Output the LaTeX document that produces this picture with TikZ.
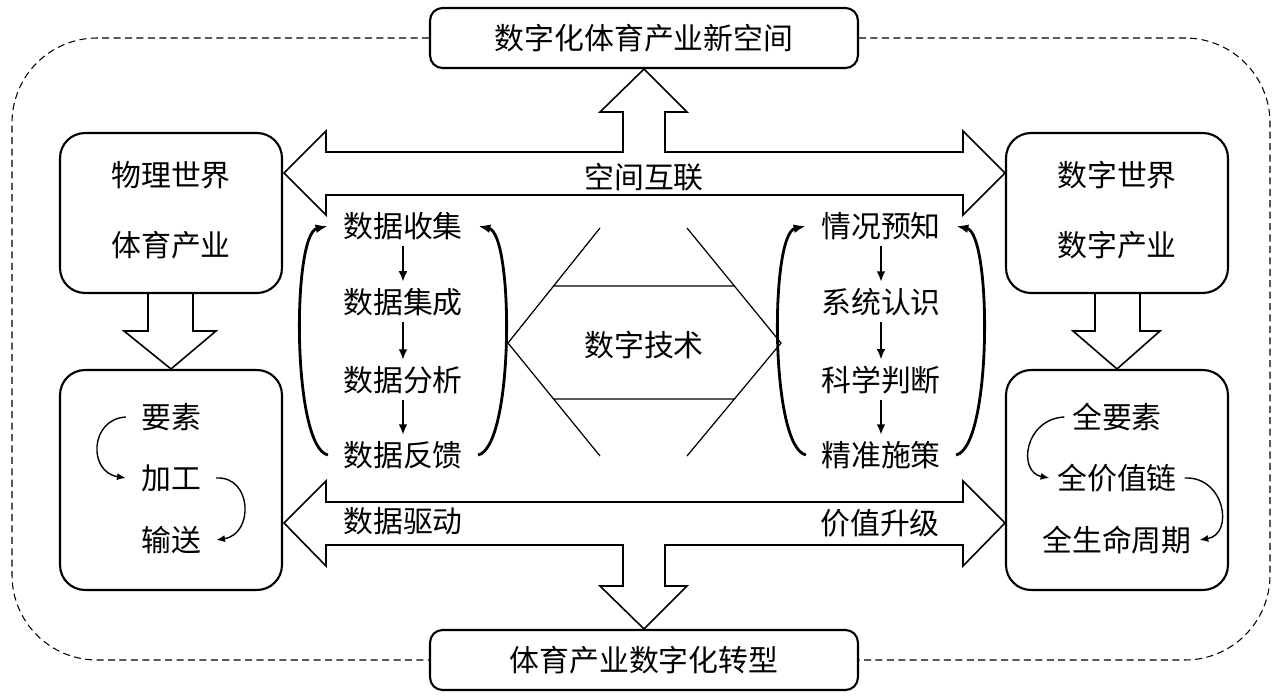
\documentclass[tikz,border=0pt]{standalone}
\usepackage{fontspec}
\newfontfamily\cjk{Noto Sans CJK SC}
\usetikzlibrary{arrows.meta}
\tikzset{x=0.02cm, y=0.02cm,
  every node/.style={font=\cjk\fontsize{17}{20}\selectfont, inner xsep=0.3cm, inner ysep=0.12cm},
  frame/.style={draw, line width=1.2pt, rounded corners=0.5cm},
  hollow/.style={draw, line width=0.9pt},
  flow/.style={line width=1.2pt, -{Latex[length=6pt,width=5pt]}},
  brace/.style={line width=1.6pt, -{Latex[length=7pt,width=5pt]}},
  turn/.style={line width=0.8pt, -{Latex[length=5pt,width=4pt]}}}

\begin{document}
\begin{tikzpicture}
  \useasboundingbox (0,0) rectangle (1276,698);
  \node[frame, rounded corners=0.25cm, minimum width=8.56cm, minimum height=1.2cm] (top) at (644,660) {数字化体育产业新空间};
  \node[frame, rounded corners=0.25cm, minimum width=8.56cm, minimum height=1.2cm] (bot) at (644,38) {体育产业数字化转型};
  \draw[dash pattern=on 4pt off 2.5pt, line width=0.6pt, rounded corners=1.7cm] (top.west) -- (12,660) -- (12,38) -- (bot.west);
  \draw[dash pattern=on 4pt off 2.5pt, line width=0.6pt, rounded corners=1.7cm] (top.east) -- (1270,660) -- (1270,38) -- (bot.east);

  \node[frame, minimum width=4.44cm, minimum height=3.2cm] (phys) at (171,485) {};
  \node[frame, minimum width=4.44cm, minimum height=4.4cm] (proc) at (171,218) {};
  \node[frame, minimum width=4.44cm, minimum height=3.2cm] (digi) at (1117,485) {};
  \node[frame, minimum width=4.44cm, minimum height=4.4cm] (full) at (1117,218) {};
  \node (p1) at (171,523) {物理世界};
  \node (p2) at (171,453) {体育产业};
  \node (g1) at (1117,523) {数字世界};
  \node (g2) at (1117,453) {数字产业};
  \node (e1) at (171,281) {要素};
  \node (e2) at (171,220) {加工};
  \node (e3) at (171,158) {输送};
  \node[inner xsep=0.15cm] (f1) at (1117,281) {全要素};
  \node[inner xsep=0.15cm] (f2) at (1117,220) {全价值链};
  \node[inner xsep=0.15cm] (f3) at (1117,158) {全生命周期};
  \draw[turn] (e1.west) .. controls +(-36,-2) and +(-38,6) .. (e2.west);
  \draw[turn] (e2.east) .. controls +(36,2) and +(38,6) .. (e3.east);
  \draw[turn] (f1.west) .. controls +(-40,-2) and +(-32,6) .. (f2.west);
  \draw[turn] (f2.east) .. controls +(40,2) and +(35,6) .. (f3.east);

  % block arrows
  \draw[hollow] (284,525) -- (326,567) -- (326,546) -- (623,546) -- (623,586) -- (600,586) -- (top.south) -- (687,586) -- (665,586) -- (665,546) -- (963,546) -- (963,567) -- (1005,525) -- (963,483) -- (963,503) -- (326,503) -- (326,483) -- cycle;
  \draw[hollow] (284,175) -- (326,217) -- (326,196) -- (963,196) -- (963,217) -- (1005,175) -- (963,132) -- (963,153) -- (665,153) -- (665,112) -- (687,112) -- (bot.north) -- (600,112) -- (623,112) -- (623,153) -- (326,153) -- (326,132) -- cycle;
  \draw[hollow] (148,405) -- (148,367) -- (124,367) -- (proc.north) -- (216,367) -- (193,367) -- (193,405);
  \draw[hollow] (1095,405) -- (1095,367) -- (1073,367) -- (full.north) -- (1160,367) -- (1140,367) -- (1140,405);
  \node (link) at (644,521) {空间互联};
  \node (drive) at (403,177) {数据驱动};
  \node (value) at (880,175) {价值升级};

  \node (d1) at (403,472) {数据收集};
  \node (d2) at (403,396) {数据集成};
  \node (d3) at (403,318) {数据分析};
  \node (d4) at (403,243) {数据反馈};
  \draw[flow] (d1) -- (d2);
  \draw[flow] (d2) -- (d3);
  \draw[flow] (d3) -- (d4);
  \draw[brace] (d4.west) .. controls +(-36,8) and +(-36,-8) .. (d1.west);
  \draw[brace] (d4.east) .. controls +(36,8) and +(36,-8) .. (d1.east);

  \node (s1) at (881,472) {情况预知};
  \node (s2) at (881,396) {系统认识};
  \node (s3) at (881,318) {科学判断};
  \node (s4) at (881,243) {精准施策};
  \draw[flow] (s1) -- (s2);
  \draw[flow] (s2) -- (s3);
  \draw[flow] (s3) -- (s4);
  \draw[brace] (s4.west) .. controls +(-36,8) and +(-36,-8) .. (s1.west);
  \draw[brace] (s4.east) .. controls +(36,8) and +(36,-8) .. (s1.east);

  \draw[line width=0.7pt] (600,470) -- (508,355) -- (600,242) (687,470) -- (781,355) -- (687,242)
    (553.6,412) -- (734.4,412) (553.6,299) -- (734.4,299);
  \node (tech) at (644,353) {数字技术};
\end{tikzpicture}
\end{document}
